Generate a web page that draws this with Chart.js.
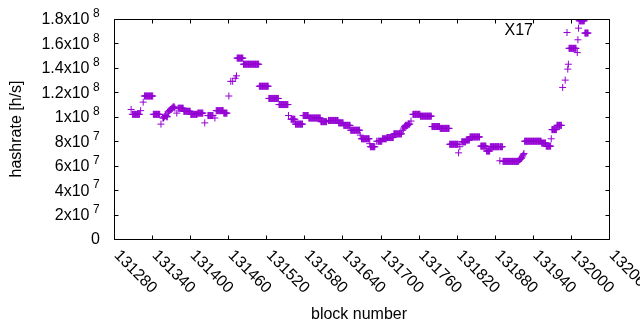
<!DOCTYPE html>
<html>
<head>
<meta charset="utf-8">
<script src="https://cdn.jsdelivr.net/npm/chart.js@4/dist/chart.umd.min.js"></script>
<style>html,body{margin:0;padding:0;background:#fff}canvas{display:block}</style>
</head>
<body>
<canvas id="c" width="640" height="330"></canvas>
<script>
const N = null;
// hashrate per block (in 10^6 h/s), one value per block starting at firstBlock
const firstBlock = 131307;
const hashrateMH = [
  // 131307
  106, N,
  // 131309
  102,102,102,102,102,102,102,102,102,102,102,102,
  // 131321
  N, 105, N, N, N, 112, N,
  // 131328
  117,117,117,117,117,117,117,117,117,117,117,117,117,117,
  // 131342
  102,102,102,102,102,102,102,102,102,102,102,
  // 131353
  N, 94, N, N,
  // 131357
  99,99,100,100,101,101,100,100,
  // 131365
  104,104,105,105,106,106,107,107,108,108,108,107,
  // 131377
  N, N, 103, N,
  // 131381
  107,107,107,107,107,107,107,107,107,
  // 131390
  104.5,104.5,104.5,104.5,104.5,104.5,104.5,104.5,104.5,104.5,104.5,
  // 131401
  102,102,102,102,102,102,102,102,102,102,102,
  // 131412
  103,103,103,103,103,103,103,103,103,
  // 131421
  N, N, 95, N, N, N, N,
  // 131428
  101,101,101,101,101,101,101,101,101,
  // 131437
  N, N, 99, N,
  // 131441
  105,105,105,105,105,105,105,105,105,105,105,105,
  // 131453
  103,103,103,103,103,103,
  // 131459
  N, N, 117, N, N, 129, N, N, 129, N, N, N, 131.5, N, 133.5,
  // 131474
  148,148,148,148,148,148,148,148,148,148,
  // 131484
  143,143,143,143,143,143,143,143,143,143,143,143,143,143,143,143,143,143,143,143,143,143,143,143,143,
  // 131509
  125,125,125,125,125,125,125,125,125,125,125,125,125,125,125,
  // 131524
  115,115,115,115,115,115,115,115,115,115,115,115,115,115,115,115,
  // 131540
  110,110,110,110,110,110,110,110,110,110,110,110,110,110,110,
  // 131555
  101, N, N, N,
  // 131559
  98,98,98,98,98,98,98,
  // 131566
  94,94,94,94,94,94,94,94,94,94,94,94,
  // 131578
  101,101,101,101,101,101,101,101,101,
  // 131587
  99,99,99,99,99,99,99,99,99,99,99,99,99,99,99,99,99,99,99,
  // 131606
  96,96,96,96,96,96,96,96,96,96,
  // 131616
  N, N,
  // 131618
  97,97,97,97,97,97,97,97,97,97,97,97,97,97,97,97,
  // 131634
  95,95,95,95,95,95,95,95,
  // 131642
  93,93,93,93,93,93,93,93,93,93,93,
  // 131653
  89,89,89,89,89,89,89,89,89,89,89,89,89,89,89,
  // 131668
  85, N,
  // 131670
  82,82,82,82,82,82,82,82,82,82,82,82,82,
  // 131683
  78,
  // 131684
  75.5,75.5,75.5,75.5,75.5,75.5,75.5,75.5,
  // 131692
  N, N, 80, N,
  // 131696
  80,80,80,80,80,80,80,
  // 131703
  82,82,82,82,82,82,82,
  // 131710
  83,83,83,83,83,83,83,83,83,83,83,
  // 131721
  86,86,86,86,86,86,86,86,86,86,86,86,86,
  // 131734
  N,
  // 131735
  89,90,91,92,93,93,93,93,93,94,94,94,
  // 131747
  N, 96.5, N, N,
  // 131751
  102,102,102,102,102,102,102,102,102,102,102,102,
  // 131763
  100.5,100.5,100.5,100.5,100.5,100.5,100.5,100.5,100.5,100.5,100.5,100.5,100.5,100.5,100.5,100.5,100.5,100.5,
  // 131781
  92,92,92,92,92,92,92,92,92,92,92,92,92,
  // 131794
  90.5,90.5,90.5,90.5,90.5,90.5,90.5,90.5,90.5,90.5,90.5,90.5,90.5,90.5,90.5,
  // 131809
  77.5,77.5,77.5,77.5,77.5,77.5,77.5,77.5,77.5,77.5,77.5,77.5,77.5,77.5,
  // 131823
  70.5, N, 75.5, N, N,
  // 131828
  79.5,79.5,79.5,79.5,79.5,79.5,79.5,
  // 131835
  81,81,81,81,81,81,
  // 131841
  83.5,83.5,83.5,83.5,83.5,83.5,83.5,83.5,83.5,83.5,83.5,83.5,83.5,83.5,83.5,83.5,
  // 131857
  N,
  // 131858
  76,76,76,76,76,76,76,76,76,
  // 131867
  72,72,72,72,72,72,
  // 131873
  75.5,75.5,75.5,75.5,75.5,75.5,75.5,75.5,75.5,75.5,75.5,75.5,75.5,75.5,75.5,
  // 131888
  64,
  // 131889
  75.5,75.5,75.5,75.5,
  // 131893
  63.5,63.5,63.5,63.5,63.5,63.5,63.5,63.5,63.5,63.5,63.5,63.5,63.5,63.5,63.5,63.5,63.5,63.5,63.5,63.5,63.5,63.5,63.5,63.5,63.5,
  // 131918
  64,65,65,66,66,67,68,69,70,
  // 131927
  80,80,80,80,80,80,80,80,80,80,80,80,80,80,80,80,80,80,80,80,80,80,80,80,80,80,80,
  // 131954
  78.5,78.5,78.5,78.5,78.5,78.5,78.5,
  // 131961
  76,76,76,76,76,76,76,76,
  // 131969
  82,
  // 131970
  89.5,89.5,89.5,89.5,89.5,89.5,89.5,89.5,
  // 131978
  93,93,93,93,93,93,93,93,
  // 131986
  N, 124, N, N, N, 130, N, N, N, 139, 143,
  // 131997
  156,156,156,156,156,156,156,156,156,156,156,156,
  // 132009
  N, 152.5, 163, 172.5,
  // 132013
  178.5,178.5,178.5,178.5,178.5,178.5,178.5,178.5,178.5,
  // 132022
  168.5,168.5,168.5,168.5,168.5,168.5
];

const seriesLabel = 'X17';
const xTickValues = [131280,131340,131400,131460,131520,131580,131640,131700,131760,131820,131880,131940,132000,132060];
const xTickLabels = ['131280','131340','131400','131460','131520','131580','131640','131700','131760','131820','131880','131940','132000','132060'];
const yTickValues = [0,2e7,4e7,6e7,8e7,1e8,1.2e8,1.4e8,1.6e8,1.8e8];
const yTickBase = ['0','2x10','4x10','6x10','8x10','1x10','1.2x10','1.4x10','1.6x10','1.8x10'];
const yTickExp  = ['','7','7','7','7','8','8','8','8','8'];
const xTitle = 'block number';
const yTitle = 'hashrate [h/s]';

const points = [];
hashrateMH.forEach((v, i) => { if (v !== null) points.push({ x: firstBlock + i, y: v * 1e6 }); });

const FONT = '"Liberation Sans", Arial, sans-serif';
const COLOR = '#9400d3';

const gnuplotFrame = {
  id: 'gnuplotFrame',
  afterDatasetsDraw(chart) {
    const { ctx, chartArea: a, scales } = chart;
    const xs = scales.x, ys = scales.y;
    const L = Math.round(a.left) + 0.5, R = Math.round(a.right) + 0.5;
    const T = Math.round(a.top) + 0.5, B = Math.round(a.bottom) + 0.5;
    ctx.save();
    ctx.strokeStyle = '#000';
    ctx.lineWidth = 1;
    ctx.beginPath();
    ctx.rect(L, T, R - L, B - T);
    const tl = 4;
    xTickValues.forEach(v => {
      const px = Math.round(xs.getPixelForValue(v)) + 0.5;
      ctx.moveTo(px, B); ctx.lineTo(px, B - tl);
      ctx.moveTo(px, T); ctx.lineTo(px, T + tl);
    });
    yTickValues.forEach(v => {
      const py = Math.round(ys.getPixelForValue(v)) + 0.5;
      ctx.moveTo(L, py); ctx.lineTo(L + tl, py);
      ctx.moveTo(R, py); ctx.lineTo(R - tl, py);
    });
    ctx.stroke();

    ctx.fillStyle = '#000';
    ctx.textBaseline = 'middle';
    ctx.font = '16px ' + FONT;
    xTickValues.forEach((v, i) => {
      const px = xs.getPixelForValue(v);
      ctx.save();
      ctx.translate(px + 2.5, a.bottom + 14);
      ctx.rotate(Math.PI / 4);
      ctx.textAlign = 'left';
      ctx.fillText(xTickLabels[i], 0, 0);
      ctx.restore();
    });
    yTickValues.forEach((v, i) => {
      const py = ys.getPixelForValue(v);
      if (yTickExp[i]) {
        ctx.font = '16px ' + FONT; ctx.textAlign = 'right';
        ctx.fillText(yTickBase[i], a.left - 24.5, py + 1);
        ctx.font = '12px ' + FONT; ctx.textAlign = 'left';
        ctx.fillText(yTickExp[i], a.left - 21, py - 5);
      } else {
        ctx.font = '16px ' + FONT; ctx.textAlign = 'right';
        ctx.fillText(yTickBase[i], a.left - 14, py + 1);
      }
    });

    ctx.font = '16px ' + FONT;
    ctx.textAlign = 'center';
    ctx.fillText(xTitle, 359, 315);
    ctx.save();
    ctx.translate(17, (a.top + a.bottom) / 2);
    ctx.rotate(-Math.PI / 2);
    ctx.fillText(yTitle, 0, 0);
    ctx.restore();

    // key (title + sample point)
    ctx.textAlign = 'right';
    ctx.fillText(chart.data.datasets[0].label, 533, 31);
    ctx.strokeStyle = COLOR;
    ctx.beginPath();
    ctx.moveTo(563.5, 32.5); ctx.lineTo(570.5, 32.5);
    ctx.moveTo(567, 29); ctx.lineTo(567, 36);
    ctx.stroke();
    ctx.restore();
  }
};

new Chart(document.getElementById('c'), {
  type: 'scatter',
  data: {
    datasets: [{
      label: seriesLabel,
      data: points,
      pointStyle: 'cross',
      pointRadius: 3.5,
      pointHoverRadius: 3.5,
      borderWidth: 1,
      borderColor: COLOR,
      backgroundColor: COLOR,
      showLine: false
    }]
  },
  options: {
    responsive: false,
    animation: false,
    events: [],
    layout: { padding: { left: 114, right: 31, top: 19, bottom: 91 } },
    scales: {
      x: { type: 'linear', min: 131280, max: 132060, display: false },
      y: { type: 'linear', min: 0, max: 1.8e8, display: false }
    },
    plugins: { legend: { display: false }, tooltip: { enabled: false } }
  },
  plugins: [gnuplotFrame]
});
</script>
</body>
</html>
